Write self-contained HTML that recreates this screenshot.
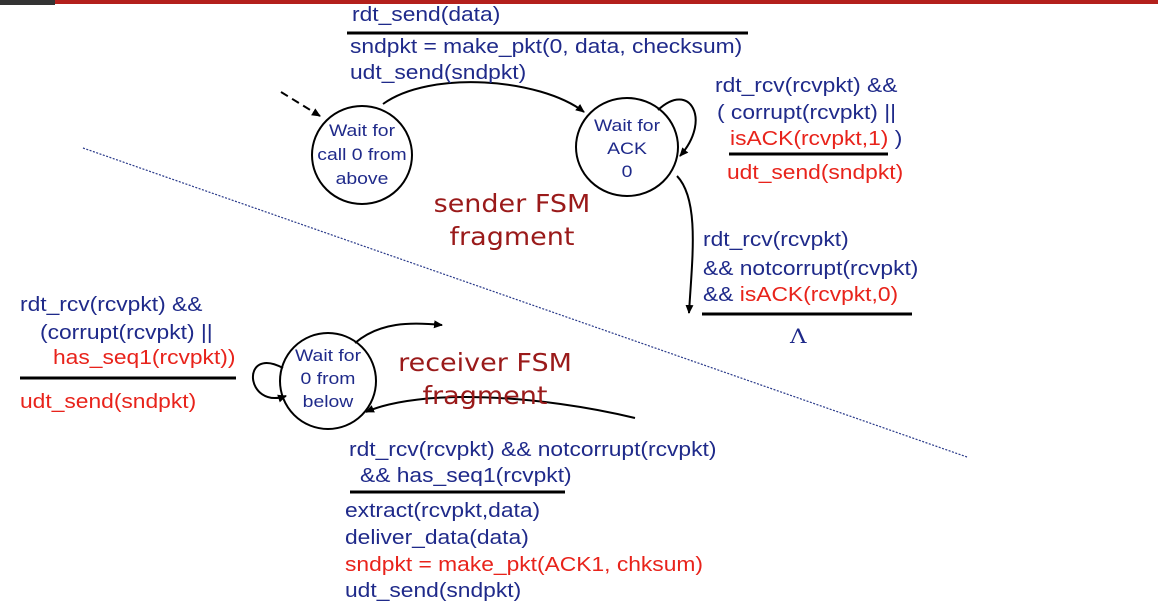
<!DOCTYPE html>
<html><head><meta charset="utf-8"><style>
body{margin:0;width:1158px;height:606px;background:#fff;overflow:hidden;position:relative;font-family:"Liberation Sans",Arial,sans-serif}
.t{position:absolute;font-size:20px;color:#1f2a8a;white-space:nowrap;line-height:1;transform:scaleX(1.14);transform-origin:0 0}
.c{font-size:17px;text-align:center;width:84px;line-height:24px;transform-origin:50% 0}
.r{color:#e8231b}
.f{position:absolute;font-family:"DejaVu Sans",sans-serif;color:#9a1a1a;font-size:25px;text-align:center;line-height:33px;width:220px;transform:scaleX(1.08)}
</style></head><body>
<div style="position:absolute;left:0;top:0;width:1158px;height:4px;background:#b3201c"></div>
<div style="position:absolute;left:0;top:0;width:55px;height:5px;background:#333"></div>
<svg width="1158" height="606" style="position:absolute;left:0;top:0">
<defs><marker id="a" markerWidth="10" markerHeight="10" refX="8" refY="5" orient="auto" markerUnits="userSpaceOnUse"><path d="M0,1 L9,5 L0,9 z" fill="#000"/></marker></defs>
<line x1="83" y1="148" x2="967" y2="457" stroke="#2a3a8a" stroke-width="1.2" stroke-dasharray="2,1.5"/>
<g stroke="#000" stroke-width="2" fill="none">
<ellipse cx="362" cy="155" rx="50" ry="49"/>
<ellipse cx="627" cy="147" rx="51" ry="49"/>
<ellipse cx="328" cy="381" rx="48" ry="48"/>
<line x1="281" y1="92" x2="320" y2="116" stroke-dasharray="8,5" marker-end="url(#a)"/>
<path d="M383,104 C430,70 540,78 584,112" marker-end="url(#a)"/>
<path d="M658,110 C690,80 712,120 680,156" marker-end="url(#a)"/>
<path d="M677,176 C700,200 692,260 689,313" marker-end="url(#a)"/>
<path d="M283,368 C240,345 245,410 286,396" marker-end="url(#a)"/>
<path d="M355,343 C380,322 410,322 442,325" marker-end="url(#a)"/>
<path d="M635,418 C540,395 420,388 366,412" marker-end="url(#a)"/>
<line x1="347" y1="33" x2="748" y2="33" stroke-width="3"/>
<line x1="729" y1="154" x2="888" y2="154" stroke-width="3"/>
<line x1="702" y1="314" x2="912" y2="314" stroke-width="3"/>
<line x1="20" y1="378" x2="236" y2="378" stroke-width="3"/>
<line x1="350" y1="492" x2="565" y2="492" stroke-width="3"/>
</g>
</svg>
<div class="t" style="left:352px;top:5px">rdt_send(data)</div>
<div class="t" style="left:350px;top:37px">sndpkt = make_pkt(0, data, checksum)</div>
<div class="t" style="left:350px;top:63px">udt_send(sndpkt)</div>
<div class="t c" style="left:320px;top:119px">Wait for<br>call 0 from<br>above</div>
<div class="t c" style="left:585px;top:114px;line-height:23px">Wait for<br>ACK<br>0</div>
<div class="t c" style="left:286px;top:344px;line-height:23px">Wait for<br>0 from<br>below</div>
<div class="t" style="left:715px;top:76px">rdt_rcv(rcvpkt) &amp;&amp;</div>
<div class="t" style="left:717px;top:103px">( corrupt(rcvpkt) ||</div>
<div class="t" style="left:730px;top:129px"><span class="r">isACK(rcvpkt,1)</span> )</div>
<div class="t r" style="left:727px;top:163px">udt_send(sndpkt)</div>
<div class="t" style="left:703px;top:230px">rdt_rcv(rcvpkt)</div>
<div class="t" style="left:703px;top:259px">&amp;&amp; notcorrupt(rcvpkt)</div>
<div class="t" style="left:703px;top:285px">&amp;&amp; <span class="r">isACK(rcvpkt,0)</span></div>
<div class="t" style="left:790px;top:326px;font-family:'DejaVu Serif',serif">Λ</div>
<div class="t" style="left:20px;top:295px">rdt_rcv(rcvpkt) &amp;&amp;</div>
<div class="t" style="left:40px;top:323px">(corrupt(rcvpkt) ||</div>
<div class="t r" style="left:53px;top:348px">has_seq1(rcvpkt))</div>
<div class="t r" style="left:20px;top:392px">udt_send(sndpkt)</div>
<div class="t" style="left:349px;top:440px">rdt_rcv(rcvpkt) &amp;&amp; notcorrupt(rcvpkt)</div>
<div class="t" style="left:360px;top:466px">&amp;&amp; has_seq1(rcvpkt)</div>
<div class="t" style="left:345px;top:501px">extract(rcvpkt,data)</div>
<div class="t" style="left:345px;top:528px">deliver_data(data)</div>
<div class="t r" style="left:345px;top:555px">sndpkt = make_pkt(ACK1, chksum)</div>
<div class="t" style="left:345px;top:581px">udt_send(sndpkt)</div>
<div class="f" style="left:402px;top:187px">sender FSM<br>fragment</div>
<div class="f" style="left:375px;top:346px">receiver FSM<br>fragment</div>
</body></html>
